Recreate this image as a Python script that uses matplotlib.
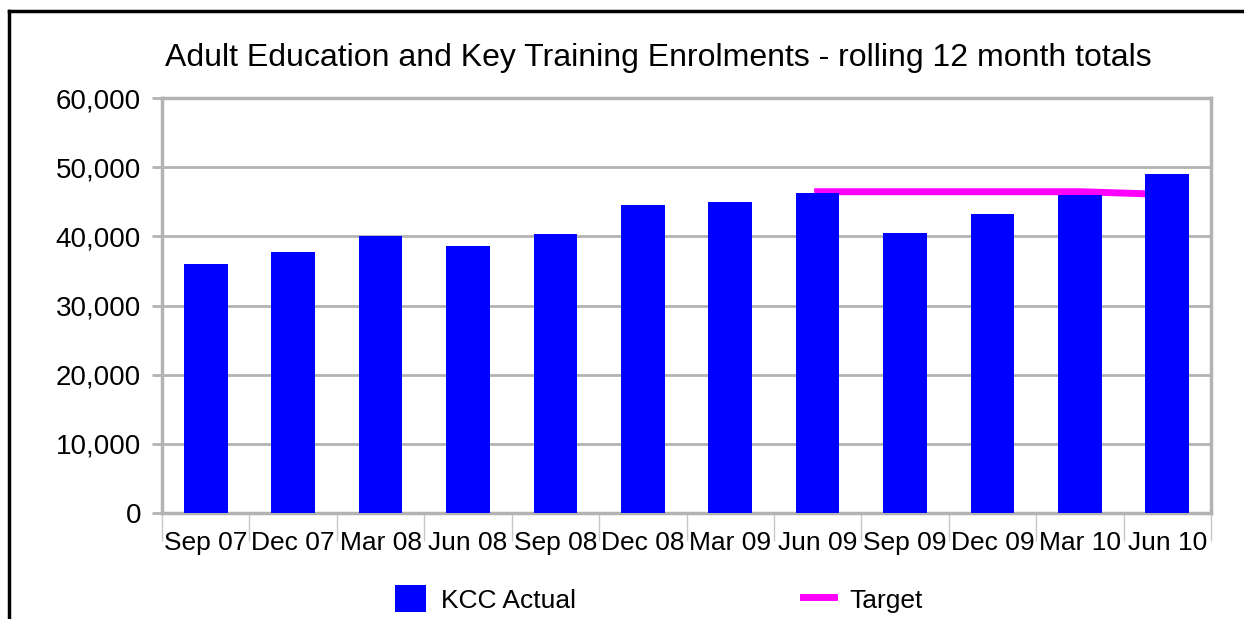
import numpy as np
import matplotlib.pyplot as plt
from matplotlib.lines import Line2D
from matplotlib.ticker import FuncFormatter, FixedLocator

plt.rcParams['font.family'] = ['Liberation Sans', 'DejaVu Sans']

# data
quarters = ['Sep 07', 'Dec 07', 'Mar 08', 'Jun 08', 'Sep 08', 'Dec 08',
            'Mar 09', 'Jun 09', 'Sep 09', 'Dec 09', 'Mar 10', 'Jun 10']
kcc_actual = [36000, 37800, 40100, 38600, 40400, 44500,
              45000, 46200, 40500, 43300, 46000, 49000]
target = [np.nan, np.nan, np.nan, np.nan, np.nan, np.nan,
          np.nan, 46450, 46450, 46450, 46450, 46050]

grey = '#b3b3b3'

fig = plt.figure(figsize=(12.44, 6.19), dpi=100)
ax = fig.add_axes([162 / 1244, 1 - 513 / 619, (1211 - 162) / 1244, (513 - 98) / 619])

x = np.arange(len(quarters))
ax.plot(x, target, color='#ff00ff', lw=5, zorder=2, label='Target')
ax.bar(x, kcc_actual, width=0.5, color='#0000ff', zorder=3, label='KCC Actual')

ax.set_xlim(-0.5, len(quarters) - 0.5)
ax.set_ylim(0, 60000)
ax.set_yticks(range(0, 60001, 10000))
ax.yaxis.set_major_formatter(FuncFormatter(lambda v, p: f'{int(v):,}'))
ax.grid(axis='y', color=grey, lw=2, zorder=0)

# category labels between the boundary ticks
ax.xaxis.set_major_locator(FixedLocator(np.arange(-0.5, len(quarters), 1)))
ax.xaxis.set_major_formatter(FuncFormatter(lambda v, p: ''))
ax.xaxis.set_minor_locator(FixedLocator(x))
ax.set_xticklabels(quarters, minor=True)
ax.tick_params(axis='x', which='major', length=20, width=1, color='#c8c8c8')
ax.tick_params(axis='x', which='minor', length=0, pad=13, labelsize=19)
ax.tick_params(axis='y', length=7.2, width=2, color=grey, labelsize=20, pad=8)

for s in ax.spines.values():
    s.set_color(grey)
    s.set_linewidth(2.5)

fig.text(658 / 1244, 1 - 58 / 619, 'Adult Education and Key Training Enrolments - rolling 12 month totals',
         ha='center', va='center', fontsize=23)

handles, labels = ax.get_legend_handles_labels()
fig.legend(handles[::-1], labels[::-1], loc='center', bbox_to_anchor=(659 / 1244, 1 - 599 / 619),
           ncol=2, frameon=False, fontsize=19, columnspacing=8.6, handlelength=1.17,
           handleheight=1.17, handletextpad=0.57)

# outer frame (left and top edges)
fig.add_artist(Line2D([8.5 / 1244, 8.5 / 1244], [0, 1 - 10.5 / 619], color='black', lw=2.5,
                      transform=fig.transFigure))
fig.add_artist(Line2D([8.5 / 1244, 1], [1 - 10.5 / 619, 1 - 10.5 / 619], color='black', lw=2.5,
                      transform=fig.transFigure))

fig.savefig('out.png', dpi=100)
